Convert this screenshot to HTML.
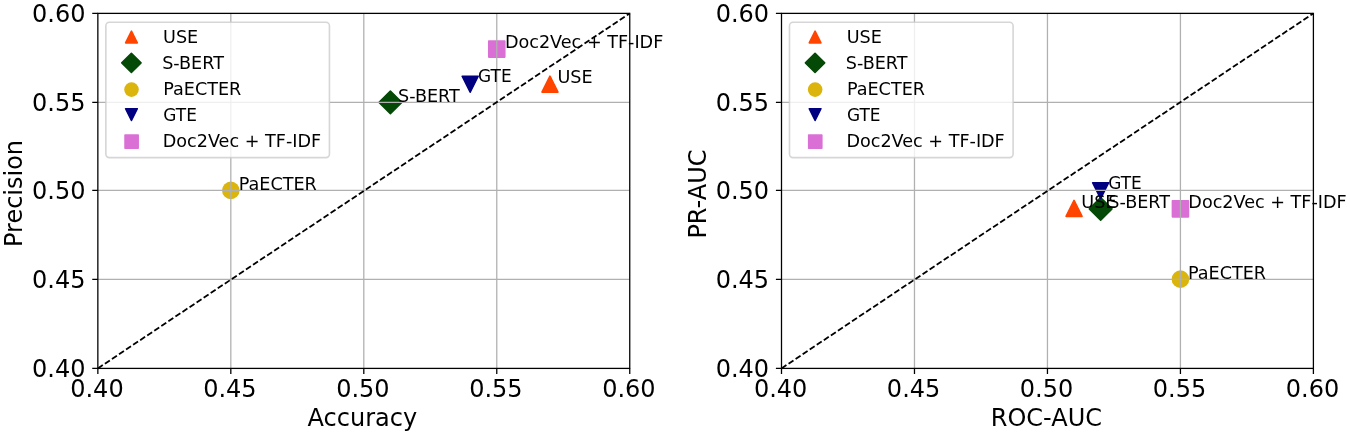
<!DOCTYPE html>
<html lang="en"><head><meta charset="utf-8"><title>Embedding model comparison</title>
<style>
html,body{margin:0;padding:0;background:#fff;}
body{width:1350px;height:435px;overflow:hidden;}
svg{display:block;}
svg text{font-family:"DejaVu Sans","Liberation Sans",sans-serif;fill:#000;}
</style></head><body>
<svg width="1350" height="435" viewBox="0 0 1350 435">
<rect width="1350" height="435" fill="#fff"/>
<path d="M549.96 76.10L557.96 92.10L541.96 92.10Z" fill="#ff4500" stroke="#ff4500" stroke-width="1.6" stroke-linejoin="round"/>
<path d="M390.39 91.04L401.71 102.35L390.39 113.66L379.08 102.35Z" fill="#054907" stroke="#054907" stroke-width="1.6" stroke-linejoin="round"/>
<circle cx="230.82" cy="190.40" r="8.80" fill="#dbb40c"/>
<path d="M470.18 92.20L478.18 76.20L462.18 76.20Z" fill="#000080" stroke="#000080" stroke-width="1.6" stroke-linejoin="round"/>
<path d="M488.78 41.10h16.00v16.00h-16.00Z" fill="#da70d6" stroke="#da70d6" stroke-width="1.6" stroke-linejoin="round"/>
<path d="M230.82 13.38V368.4M363.80 13.38V368.4M496.77 13.38V368.4M97.85 102.4H629.75M97.85 190.4H629.75M97.85 279.4H629.75" stroke="#b0b0b0" stroke-width="1.28" fill="none"/>
<path d="M97.85 368.4L629.75 13.38" stroke="#000" stroke-width="1.8" stroke-dasharray="5.92 2.56" fill="none"/>
<rect x="97.85" y="13.38" width="531.90" height="355.02" fill="none" stroke="#000" stroke-width="1.28"/>
<path d="M97.85 368.4v5.6M230.82 368.4v5.6M363.80 368.4v5.6M496.77 368.4v5.6M629.75 368.4v5.6M97.85 13.38h-5.6M97.85 102.4h-5.6M97.85 190.4h-5.6M97.85 279.4h-5.6M97.85 368.4h-5.6" stroke="#000" stroke-width="1.28" fill="none"/>
<g font-size="24" text-anchor="middle">
<text x="96.95" y="396.8">0.40</text>
<text x="229.92" y="396.8">0.45</text>
<text x="362.90" y="396.8">0.50</text>
<text x="495.88" y="396.8">0.55</text>
<text x="628.85" y="396.8">0.60</text>
</g>
<g font-size="24" text-anchor="end">
<text x="85.45" y="21.58">0.60</text>
<text x="85.45" y="110.60">0.55</text>
<text x="85.45" y="198.60">0.50</text>
<text x="85.45" y="287.60">0.45</text>
<text x="85.45" y="376.60">0.40</text>
</g>
<text font-size="24" x="307.60" y="426.3">Accuracy</text>
<text font-size="24" transform="translate(21.85 247.00) rotate(-90)">Precision</text>
<g font-size="17.6">
<text x="557.47" y="83.00">USE</text>
<text x="398.06" y="101.80">S-BERT</text>
<text x="238.74" y="189.70">PaECTER</text>
<text x="478.03" y="82.30" textLength="33.6" lengthAdjust="spacingAndGlyphs">GTE</text>
<text x="504.94" y="48.40">Doc2Vec + TF-IDF</text>
</g>
<rect x="105.85" y="22.2" width="223.6" height="135.4" rx="3.5" fill="#fff" fill-opacity="0.8" stroke="#ccc" stroke-opacity="0.8" stroke-width="1.6"/>
<path d="M131.45 31.15L137.30 42.85L125.60 42.85Z" fill="#ff4500" stroke="#ff4500" stroke-width="1.6" stroke-linejoin="round"/>
<path d="M131.40 53.28L141.02 62.90L131.40 72.52L121.78 62.90Z" fill="#054907" stroke="#054907" stroke-width="1.6" stroke-linejoin="round"/>
<circle cx="131.50" cy="89.60" r="7.30" fill="#dbb40c"/>
<path d="M131.45 120.45L137.30 108.75L125.60 108.75Z" fill="#000080" stroke="#000080" stroke-width="1.6" stroke-linejoin="round"/>
<path d="M125.05 135.05h13.10v13.10h-13.10Z" fill="#da70d6" stroke="#da70d6" stroke-width="1.6" stroke-linejoin="round"/>
<g font-size="17.6">
<text x="163.05" y="42.5">USE</text>
<text x="162.15" y="68.5">S-BERT</text>
<text x="163.25" y="94.5">PaECTER</text>
<text x="163.25" y="121.2" textLength="33.6" lengthAdjust="spacingAndGlyphs">GTE</text>
<text x="162.75" y="146.8">Doc2Vec + TF-IDF</text>
</g>
<path d="M1074.05 200.35L1082.05 216.35L1066.05 216.35Z" fill="#ff4500" stroke="#ff4500" stroke-width="1.6" stroke-linejoin="round"/>
<path d="M1100.64 197.54L1111.95 208.85L1100.64 220.16L1089.33 208.85Z" fill="#054907" stroke="#054907" stroke-width="1.6" stroke-linejoin="round"/>
<circle cx="1180.43" cy="279.15" r="8.80" fill="#dbb40c"/>
<path d="M1100.64 198.70L1108.64 182.70L1092.64 182.70Z" fill="#000080" stroke="#000080" stroke-width="1.6" stroke-linejoin="round"/>
<path d="M1172.43 200.85h16.00v16.00h-16.00Z" fill="#da70d6" stroke="#da70d6" stroke-width="1.6" stroke-linejoin="round"/>
<path d="M914.48 13.38V368.4M1047.45 13.38V368.4M1180.43 13.38V368.4M781.50 102.4H1313.40M781.50 190.4H1313.40M781.50 279.4H1313.40" stroke="#b0b0b0" stroke-width="1.28" fill="none"/>
<path d="M781.50 368.4L1313.40 13.38" stroke="#000" stroke-width="1.8" stroke-dasharray="5.92 2.56" fill="none"/>
<rect x="781.50" y="13.38" width="531.90" height="355.02" fill="none" stroke="#000" stroke-width="1.28"/>
<path d="M781.50 368.4v5.6M914.48 368.4v5.6M1047.45 368.4v5.6M1180.43 368.4v5.6M1313.40 368.4v5.6M781.50 13.38h-5.6M781.50 102.4h-5.6M781.50 190.4h-5.6M781.50 279.4h-5.6M781.50 368.4h-5.6" stroke="#000" stroke-width="1.28" fill="none"/>
<g font-size="24" text-anchor="middle">
<text x="780.60" y="396.8">0.40</text>
<text x="913.58" y="396.8">0.45</text>
<text x="1046.55" y="396.8">0.50</text>
<text x="1179.53" y="396.8">0.55</text>
<text x="1312.50" y="396.8">0.60</text>
</g>
<g font-size="24" text-anchor="end">
<text x="769.10" y="21.58">0.60</text>
<text x="769.10" y="110.60">0.55</text>
<text x="769.10" y="198.60">0.50</text>
<text x="769.10" y="287.60">0.45</text>
<text x="769.10" y="376.60">0.40</text>
</g>
<text font-size="24" x="990.75" y="426.3">ROC-AUC</text>
<text font-size="24" transform="translate(705.50 238.60) rotate(-90)">PR-AUC</text>
<g font-size="17.6">
<text x="1081.30" y="207.90">USE</text>
<text x="1108.26" y="207.90">S-BERT</text>
<text x="1187.94" y="278.80">PaECTER</text>
<text x="1108.23" y="189.00" textLength="33.6" lengthAdjust="spacingAndGlyphs">GTE</text>
<text x="1188.34" y="207.50">Doc2Vec + TF-IDF</text>
</g>
<rect x="789.50" y="22.2" width="223.6" height="135.4" rx="3.5" fill="#fff" fill-opacity="0.8" stroke="#ccc" stroke-opacity="0.8" stroke-width="1.6"/>
<path d="M815.10 31.15L820.95 42.85L809.25 42.85Z" fill="#ff4500" stroke="#ff4500" stroke-width="1.6" stroke-linejoin="round"/>
<path d="M815.05 53.28L824.67 62.90L815.05 72.52L805.43 62.90Z" fill="#054907" stroke="#054907" stroke-width="1.6" stroke-linejoin="round"/>
<circle cx="815.15" cy="89.60" r="7.30" fill="#dbb40c"/>
<path d="M815.10 120.45L820.95 108.75L809.25 108.75Z" fill="#000080" stroke="#000080" stroke-width="1.6" stroke-linejoin="round"/>
<path d="M808.70 135.05h13.10v13.10h-13.10Z" fill="#da70d6" stroke="#da70d6" stroke-width="1.6" stroke-linejoin="round"/>
<g font-size="17.6">
<text x="846.70" y="42.5">USE</text>
<text x="845.80" y="68.5">S-BERT</text>
<text x="846.90" y="94.5">PaECTER</text>
<text x="846.90" y="121.2" textLength="33.6" lengthAdjust="spacingAndGlyphs">GTE</text>
<text x="846.40" y="146.8">Doc2Vec + TF-IDF</text>
</g>
</svg>
</body></html>
